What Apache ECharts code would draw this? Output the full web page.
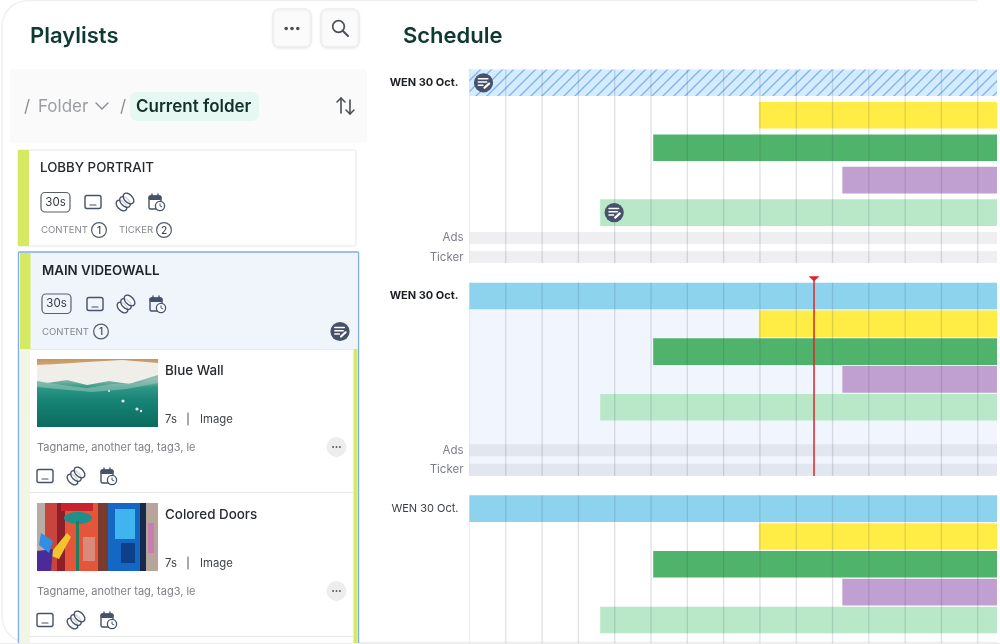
<!DOCTYPE html>
<html>
<head>
<meta charset="utf-8">
<title>Schedule</title>
<style>
  html, body { margin: 0; padding: 0; background: #fff; }
  #main { width: 1000px; height: 644px; }
</style>
<script src="https://cdn.jsdelivr.net/npm/echarts@6/dist/echarts.min.js"></script>
</head>
<body>
<div id="main"></div>
<script>
'use strict'

// x axis is in slots, one gridline per slot
const axisEnd = 14.53;
const slotTicks = [0, 1, 2, 3, 4, 5, 6, 7, 8, 9, 10, 11, 12, 13, 14];
const nowSlot = 9.49;

const dayLabel = 'WEN 30 Oct.';
const sideLabels = ['Ads', 'Ticker'];

// lanes of one day: 0 header, 1-4 playlists, 5 ads, 6 ticker
const laneStarts = [0, 7.97, 5.06, 10.27, 3.6, 0, 0];
const laneColors = ['#8dd3ee', '#ffec45', '#50b36c', '#c09fd1', '#b9e8c8', 'rgba(95,100,120,0.1)', 'rgba(95,100,120,0.1)'];

const notesFirstDay = [[0, 0], [4, 3.6]];

const ink = '#46516a';

// ----- small drawing helpers for the left panel -----
function txt(x, y, text, font, fill, align) {
  return { type: 'text', style: { x, y, text, font, fill, align: align || 'left', verticalAlign: 'middle' } };
}
function box(x, y, w, h, fill, stroke, r, lw) {
  return {
    type: 'rect',
    shape: { x, y, width: w, height: h, r: r || 0 },
    style: { fill: fill || 'none', stroke: stroke || 'none', lineWidth: lw || 1 }
  };
}
function ring(cx, cy, r, fill, stroke, lw) {
  return { type: 'circle', shape: { cx, cy, r }, style: { fill: fill || 'none', stroke: stroke || 'none', lineWidth: lw || 1 } };
}
function seg(pts, stroke, lw) {
  return { type: 'polyline', shape: { points: pts }, style: { stroke, lineWidth: lw || 1.5, fill: 'none', lineCap: 'round', lineJoin: 'round' } };
}

function screenIcon(x, y) {
  return { type: 'group', x, y, children: [
    box(-8, -6.5, 16, 13, 'none', ink, 2, 1.4),
    seg([[-3, 3], [3, 3]], ink, 1.2)
  ] };
}
function coinsIcon(x, y) {
  const coin = (dx) => ({
    type: 'ellipse', x: dx, y: -dx, rotation: Math.PI / 4,
    shape: { cx: 0, cy: 0, rx: 4, ry: 6.4 },
    style: { fill: 'rgba(255,255,255,0.75)', stroke: ink, lineWidth: 1.4 }
  });
  return { type: 'group', x, y, children: [coin(-3.5), coin(0), coin(3.5)] };
}
function calendarIcon(x, y) {
  return { type: 'group', x, y, children: [
    box(-7, -6, 12, 13, 'none', ink, 1.5, 1.4),
    box(-7, -6, 12, 3.5, ink, ink, 1, 1),
    seg([[-4, -8], [-4, -6]], ink, 1.4),
    seg([[2, -8], [2, -6]], ink, 1.4),
    ring(4, 4, 4.6, '#fff', ink, 1.3),
    seg([[4, 1.8], [4, 4], [5.8, 4.8]], ink, 1)
  ] };
}
function noteIcon(x, y) {
  return { type: 'group', x, y, children: [
    ring(0, 0, 9.6, ink),
    seg([[-5.2, -4], [4.4, -4]], '#fff', 1.5),
    seg([[-5.2, -0.8], [3.2, -0.8]], '#fff', 1.5),
    seg([[-5.2, 2.4], [-0.6, 2.4]], '#fff', 1.5),
    seg([[1, 5], [5.6, 0.8]], '#fff', 2.2)
  ] };
}
function iconRow(x1, x2, x3, y) {
  return [screenIcon(x1, y), coinsIcon(x2, y), calendarIcon(x3, y)];
}
function countBadge(x, y, n) {
  return [ring(x, y, 7.4, 'none', '#555d6b', 1.2), txt(x, y + 0.5, n, '500 10px Inter', '#444', 'center')];
}
function dots(cx, cy, gap, r, color) {
  return [-gap, 0, gap].map(d => ring(cx + d, cy, r, color));
}

// ----- thumbnails (only a rough picture of the photos) -----
function seaThumb(x, y) {
  return { type: 'group', x, y, children: [
    { type: 'rect', shape: { x: 0, y: 0, width: 121, height: 68 }, style: { fill: {
      type: 'linear', x: 0, y: 0, x2: 0, y2: 1, colorStops: [
        { offset: 0, color: '#c99560' }, { offset: 0.08, color: '#cfa377' }, { offset: 0.3, color: '#8fbcae' },
        { offset: 0.42, color: '#2f9686' }, { offset: 0.6, color: '#178576' },
        { offset: 0.8, color: '#11786a' }, { offset: 1, color: '#0c6a5e' }
      ] } } },
    { type: 'polygon', shape: { points: [[0, 6], [20, 5], [50, 3], [85, 1], [121, 4], [121, 16], [105, 21], [92, 25], [72, 22], [50, 26], [30, 21], [10, 24], [0, 22]] }, style: { fill: '#efeee8' } },
    { type: 'polygon', shape: { points: [[0, 22], [25, 26], [50, 29], [75, 25], [100, 24], [121, 18], [121, 24], [90, 30], [55, 33], [20, 30], [0, 28]] }, style: { fill: 'rgba(150,195,185,0.6)' } },
    ring(86, 42, 1.6, '#d5e8e2'), ring(100, 50, 1.6, '#d5e8e2'), ring(104, 52, 1.2, '#d5e8e2'), ring(72, 32, 1, '#e5f0ec')
  ] };
}
function doorThumb(x, y) {
  const strips = [
    [0, 8, '#b8aca6'], [8, 12, '#c9443c'], [20, 8, '#8e1f2a'], [28, 33, '#e4553a'], [61, 10, '#7a3a2e'],
    [71, 32, '#1567c4'], [103, 6, '#172a4c'], [109, 12, '#b5a59a']
  ];
  return { type: 'group', x, y, children: strips.map(s => box(s[0], 0, s[1], 68, s[2])).concat([
    box(24, 0, 32, 8, '#c9242e'),
    { type: 'ellipse', shape: { cx: 41, cy: 15, rx: 14, ry: 6 }, style: { fill: '#1f8f8c' } },
    box(39, 18, 3, 50, '#1d7f5f'),
    { type: 'polygon', shape: { points: [[12, 52], [30, 30], [34, 34], [22, 56]] }, style: { fill: '#f2c52e' } },
    { type: 'polygon', shape: { points: [[0, 48], [16, 46], [14, 68], [0, 68]] }, style: { fill: '#4b2a9a' } },
    { type: 'polygon', shape: { points: [[4, 30], [16, 38], [12, 50], [2, 42]] }, style: { fill: '#2f8fe0' } },
    box(78, 6, 20, 30, '#3fb4ee'),
    box(84, 40, 14, 20, '#0d3f8a'),
    box(46, 34, 12, 24, '#d98a7a'),
    box(111, 20, 6, 30, '#c87fb0')
  ]) };
}

function playlistItem(y, title) {
  return [
    txt(165, y + 11.5, title, '500 13.4px Inter', '#26292e'),
    txt(165, y + 60.5, '7s', '400 11.3px Inter', '#3f444b'),
    seg([[188, y + 54], [188, y + 66]], '#555', 1),
    txt(200, y + 60.5, 'Image', '400 11.3px Inter', '#3f444b'),
    txt(37, y + 88.5, 'Tagname, another tag, tag3, le', '400 11px Inter', '#7c8087'),
    ring(336.5, y + 88, 10, '#ecedef')
  ].concat(dots(336.5, y + 88, 3.4, 0.95, '#555'), iconRow(45, 76, 108, y + 117));
}

const panel = [
  // outer card outline, runs off behind the right edge
  box(2, 0.5, 1040, 642, 'none', '#f0f0f1', 26, 1.5),
  box(977, 0, 23, 6, '#fff'),
  box(998, 0, 2, 644, '#fff'),

  txt(30, 36, 'Playlists', '600 22px Inter', '#0f3a32'),
  txt(403, 36, 'Schedule', '600 22px Inter', '#0f3a32'),

  { type: 'rect', shape: { x: 273, y: 9, width: 38, height: 38, r: 6 }, style: { fill: '#fbfbfb', stroke: '#e9e9ea', shadowBlur: 3, shadowColor: 'rgba(0,0,0,0.08)', shadowOffsetY: 1 } },
  { type: 'rect', shape: { x: 321, y: 9, width: 38, height: 38, r: 6 }, style: { fill: '#fbfbfb', stroke: '#e9e9ea', shadowBlur: 3, shadowColor: 'rgba(0,0,0,0.08)', shadowOffsetY: 1 } },
  ...dots(292, 28.5, 5.8, 1.8, '#4a4f56'),
  ring(338.5, 26.5, 5.8, 'none', '#4a4f56', 1.7),
  seg([[343, 31], [348, 36]], '#4a4f56', 2),

  box(10, 69, 357, 74, '#fafafa', null, 4),
  txt(24, 106.5, '/', '400 17px Inter', '#8b8f95'),
  txt(38, 106.5, 'Folder', '400 17px Inter', '#9a9da2'),
  seg([[96, 103], [102, 109], [108, 103]], '#85888e', 1.3),
  txt(120, 106.5, '/', '400 17px Inter', '#8b8f95'),
  box(130, 92, 129, 29, '#e5f8f2', null, 7),
  txt(136, 106.5, 'Current folder', '600 17px Inter', '#14302b'),
  seg([[341, 113], [341, 98], [337, 102]], '#4a4f56', 1.6),
  seg([[341, 98], [345, 102]], '#4a4f56', 1.6),
  seg([[350, 100], [350, 114], [346, 110]], '#4a4f56', 1.6),
  seg([[350, 114], [354, 110]], '#4a4f56', 1.6),

  // first playlist card
  box(18, 150, 338, 96, '#fff', '#e6e7e9', 1, 1),
  box(18, 150, 11, 96, '#d5ea62'),
  txt(40, 168, 'LOBBY PORTRAIT', '500 13.3px Inter', '#26292e'),
  box(41, 192.5, 29, 19.5, 'none', '#5a606b', 4, 1.2),
  txt(55.5, 202.5, '30s', '400 11.5px Inter', '#33373d', 'center'),
  ...iconRow(93, 125, 156, 202),
  txt(41, 230.5, 'CONTENT', '400 9.6px Inter', '#85888e'),
  ...countBadge(99, 230, '1'),
  txt(119, 230.5, 'TICKER', '400 9.6px Inter', '#85888e'),
  ...countBadge(164, 230, '2'),

  // selected playlist with its items
  box(18.5, 252, 340, 400, '#fff', '#7fabe8', 1, 1.4),
  box(19.5, 253, 338, 96, '#f0f5fc'),
  box(20, 253, 10.5, 96, '#d5ea62'),
  box(20, 349, 10, 295, '#f1f6e2'),
  box(353.5, 349, 4, 295, '#d5ea62'),
  seg([[30, 349.5], [353, 349.5]], '#e8ebf0', 1),
  txt(42, 271, 'MAIN VIDEOWALL', '600 13.3px Inter', '#1f2328'),
  box(42, 294, 29, 19.5, 'none', '#5a606b', 4, 1.2),
  txt(56.5, 304, '30s', '400 11.5px Inter', '#33373d', 'center'),
  ...iconRow(95, 126, 157, 304),
  txt(42, 332, 'CONTENT', '400 9.6px Inter', '#85888e'),
  ...countBadge(101, 331.5, '1'),
  noteIcon(340, 331.5),

  seaThumb(37, 359),
  ...playlistItem(359, 'Blue Wall'),
  seg([[30, 492.5], [353, 492.5]], '#e6e7e9', 1),
  doorThumb(37, 503),
  ...playlistItem(503, 'Colored Doors'),
  seg([[30, 636.5], [353, 636.5]], '#e6e7e9', 1),
  box(0, 643, 1000, 1, '#ededee')
];

// ----- schedule -----
// hatch tile for the first day's header
const hatch = document.createElement('canvas');
hatch.width = hatch.height = 11;
const hc = hatch.getContext('2d');
hc.fillStyle = '#d3ecff';
hc.fillRect(0, 0, 11, 11);
hc.strokeStyle = '#82b3ec';
hc.lineWidth = 1.3;
[[-11, 11, 11, -11], [0, 11, 11, 0], [0, 22, 22, 0]].forEach(l => {
  hc.beginPath();
  hc.moveTo(l[0], l[1]);
  hc.lineTo(l[2], l[3]);
  hc.stroke();
});

// vertical layout of the three days, lane positions are in lane pitches
const days = [
  { top: 69.5, height: 193.5, pitch: 32.45, lanes: [0, 1, 2, 3, 4, 4.78, 5.37], labelWeight: 700, headFill: { image: hatch, repeat: 'repeat' }, count: 7 },
  { top: 282.7, height: 193.3, pitch: 27.8, lanes: [0, 1, 2, 3, 4, 5.55, 6.25], labelWeight: 700, headFill: laneColors[0], count: 7, tint: '#f1f5fd' },
  { top: 495.3, height: 148, pitch: 27.85, lanes: [0, 1, 2, 3, 4], labelWeight: 400, headFill: laneColors[0], count: 5 }
];

function laneRows(day) {
  return laneStarts.slice(0, day.count).map((s, i) => [day.lanes[i], s, axisEnd, i]);
}

const grids = [], xAxes = [], yAxes = [], series = [];
days.forEach((day, d) => {
  const head = 13.3 / day.pitch;
  grids.push({
    left: 469.5, width: 527.5, top: day.top, height: day.height,
    show: !!day.tint, backgroundColor: day.tint || 'transparent', borderWidth: 0
  });
  xAxes.push({
    gridIndex: d, type: 'value', min: 0, max: axisEnd, interval: 1,
    axisLine: { show: false }, axisTick: { show: false }, axisLabel: { show: false }, splitLine: { show: false }
  });
  yAxes.push({
    gridIndex: d, type: 'value', inverse: true, min: -head, max: -head + day.height / day.pitch, show: false, splitLine: { show: false }
  });
  series.push({
    type: 'custom', xAxisIndex: d, yAxisIndex: d, z: 2, silent: true,
    encode: { x: [1, 2], y: 0 },
    data: laneRows(day),
    renderItem(params, api) {
      const lane = api.value(3);
      const tall = (lane >= 5 ? 12 : 26.6) / 2;
      const a = api.coord([api.value(1), api.value(0)]);
      const b = api.coord([api.value(2), api.value(0)]);
      return {
        type: 'rect',
        shape: { x: a[0], y: a[1] - tall, width: b[0] - a[0], height: tall * 2 },
        style: { fill: lane === 0 ? day.headFill : laneColors[lane] }
      };
    }
  });
  // slot gridlines run over the bars, so they are a series and not splitLine
  series.push({
    type: 'custom', xAxisIndex: d, yAxisIndex: d, z: 3, silent: true,
    encode: { x: 0 },
    data: slotTicks.map(t => [t]),
    renderItem(params, api) {
      const x = api.coord([api.value(0), 0])[0];
      const c = params.coordSys;
      return {
        type: 'line',
        shape: { x1: x, y1: c.y, x2: x, y2: c.y + c.height },
        style: { stroke: api.value(0) === 0 ? 'rgba(50,60,80,0.07)' : 'rgba(50,60,80,0.16)', lineWidth: 1.3 }
      };
    }
  });
  // row labels left of the plot
  const labels = [[day.lanes[0], dayLabel, 1]];
  if (day.count > 5) sideLabels.forEach((t, i) => labels.push([day.lanes[5 + i], t, 0]));
  series.push({
    type: 'custom', xAxisIndex: d, yAxisIndex: d, z: 2, silent: true, clip: false,
    encode: { y: 0 },
    data: labels,
    renderItem(params, api) {
      const p = api.coord([0, api.value(0)]);
      const isDay = api.value(2) === 1;
      return {
        type: 'text',
        style: {
          x: p[0] + (isDay ? -11 : -6), y: p[1], text: labels[params.dataIndex][1],
          font: isDay ? day.labelWeight + ' 11px Inter' : '400 11.5px Inter',
          fill: isDay ? (day.labelWeight > 400 ? '#1d2024' : '#3b3f45') : '#7b7f86',
          align: 'right', verticalAlign: 'middle'
        }
      };
    }
  });
});

// note badges sitting at the start of a bar
series.push({
  type: 'custom', xAxisIndex: 0, yAxisIndex: 0, z: 5, silent: true, clip: false,
  encode: { x: 1, y: 0 },
  data: notesFirstDay,
  renderItem(params, api) {
    const p = api.coord([api.value(1), api.value(0)]);
    return noteIcon(p[0] + 14, p[1]);
  }
});

// red "now" marker on the second day
series.push({
  type: 'custom', xAxisIndex: 1, yAxisIndex: 1, z: 6, silent: true, clip: false,
  encode: { x: 0 },
  data: [[nowSlot]],
  renderItem(params, api) {
    const x = api.coord([api.value(0), 0])[0];
    const c = params.coordSys;
    return {
      type: 'group',
      children: [
        { type: 'line', shape: { x1: x, y1: c.y - 5, x2: x, y2: c.y + c.height }, style: { stroke: '#d9262c', lineWidth: 1.5 } },
        { type: 'polygon', shape: { points: [[x - 5.5, c.y - 6.5], [x + 5.5, c.y - 6.5], [x, c.y - 1.5]] }, style: { fill: '#d9262c' } }
      ]
    };
  }
});

const myChart = echarts.init(document.getElementById('main'));
myChart.setOption({
  animation: false,
  backgroundColor: '#fff',
  graphic: { elements: panel },
  grid: grids,
  xAxis: xAxes,
  yAxis: yAxes,
  series: series
});
</script>
</body>
</html>
